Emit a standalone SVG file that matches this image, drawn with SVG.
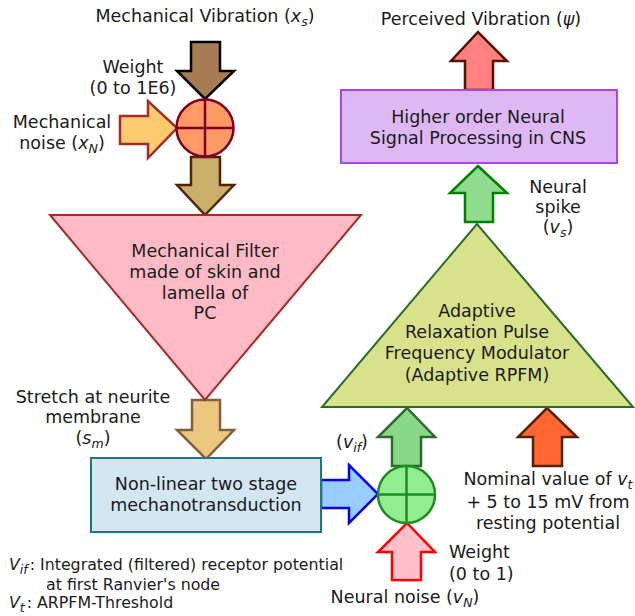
<svg xmlns="http://www.w3.org/2000/svg" width="635" height="616" viewBox="0 0 635 616">
<style>
text{font-family:"DejaVu Sans","Liberation Sans",sans-serif;font-size:17.5px;fill:#1a1a1a}
.m{text-anchor:middle}
.s{font-size:15.8px}
.i{font-style:italic}
.sub{font-size:12.5px;font-style:italic}
.a{stroke-width:2.5;stroke-linejoin:miter}
</style>
<g id="connectors">
<path id="arrow-vibration" class="a" d="M191,42 H220 V71 H234 L205,99 L177,71 H191 Z" fill="#a67c52" stroke="#000"/>
<path id="arrow-mech-noise" class="a" d="M120,116 H148 V101 L177,128 L148,158 V144 H120 Z" fill="#fdcb6e" stroke="#a02c2c"/>
<path id="arrow-to-filter" class="a" d="M191,157 H220 V185 H234 L205,215 L177,185 H191 Z" fill="#c8b06a" stroke="#552200"/>
<path id="arrow-stretch" class="a" d="M192,400 H220 V430 H234 L206,459 L177,430 H192 Z" fill="#eec77e" stroke="#806040"/>
<path id="arrow-transduction" class="a" d="M321,480 H349 V465 L378,494 L349,523 V508 H321 Z" fill="#99ccff" stroke="#0000ff"/>
<path id="arrow-vif" class="a" d="M392,466 V437 H378 L407,408 L435,437 H421 V466 Z" fill="#88d888" stroke="#2d6b2d"/>
<path id="arrow-neural-noise" class="a" d="M392,580 V552 H378 L407,523 L435,552 H421 V580 Z" fill="#ffc0cb" stroke="#ff0000"/>
<path id="arrow-threshold" class="a" d="M533,466 V437 H518 L547,408 L577,437 H562 V466 Z" fill="#ff6633" stroke="#552200"/>
<path id="arrow-spike" class="a" d="M465,222 V193 H450 L478,166 L507,193 H493 V222 Z" fill="#8fdc8f" stroke="#008000"/>
<path id="arrow-perceived" class="a" d="M465,90 V61 H451 L478,32 L507,61 H493 V90 Z" fill="#ff8080" stroke="#551100"/>
</g>
<g id="sum-mechanical">
<circle cx="205" cy="128" r="28.5" fill="#ff9966" stroke="#800020" stroke-width="2.5"/>
<path d="M205,99.5 V156.5 M176.5,128 H233.5" stroke="#800020" stroke-width="2.5"/>
</g>
<g id="mechanical-filter">
<path d="M50,215 H361 L205,400 Z" fill="#ffbac6" stroke="#a52a2a" stroke-width="2"/>
<text class="m" x="205" y="257">Mechanical Filter</text>
<text class="m" x="205" y="278">made of skin and</text>
<text class="m" x="205" y="299">lamella of</text>
<text class="m" x="205" y="319">PC</text>
</g>
<g id="transduction">
<rect x="91" y="458" width="230" height="74" fill="#d2e6f3" stroke="#1a7a7a" stroke-width="2"/>
<text class="m" x="206" y="490">Non-linear two stage</text>
<text class="m" x="206" y="511">mechanotransduction</text>
</g>
<g id="sum-neural">
<circle cx="406.5" cy="494.5" r="28.5" fill="#90ee90" stroke="#228b22" stroke-width="2.5"/>
<path d="M406.5,466 V523 M378,494.5 H435" stroke="#228b22" stroke-width="2.5"/>
</g>
<g id="rpfm">
<path d="M322,407 H633 L477,224 Z" fill="#d8e28a" stroke="#2d6b2d" stroke-width="2"/>
<text class="m" x="477" y="317">Adaptive</text>
<text class="m" x="477" y="338">Relaxation Pulse</text>
<text class="m" x="477" y="359">Frequency Modulator</text>
<text class="m" x="477" y="381">(Adaptive RPFM)</text>
</g>
<g id="cns">
<rect x="341" y="90" width="276" height="73" fill="#ddb8f5" stroke="#aa44ee" stroke-width="2"/>
<text class="m" x="478" y="123">Higher order Neural</text>
<text class="m" x="478" y="144">Signal Processing in CNS</text>
</g>
<g id="labels">
<text class="m" x="205" y="22">Mechanical Vibration (<tspan class="i">x</tspan><tspan class="sub" dy="4">s</tspan><tspan dy="-4">)</tspan></text>
<text class="m" x="133" y="73">Weight</text>
<text class="m" x="133" y="94">(0 to 1E6)</text>
<text class="m" x="62" y="128">Mechanical</text>
<text class="m" x="62" y="149">noise (<tspan class="i">x</tspan><tspan class="sub" dy="4">N</tspan><tspan dy="-4">)</tspan></text>
<text class="m" x="93" y="403">Stretch at neurite</text>
<text class="m" x="93" y="423">membrane</text>
<text class="m" x="93" y="444">(<tspan class="i">s</tspan><tspan class="sub" dy="4">m</tspan><tspan dy="-4">)</tspan></text>
<text x="9" y="570" class="s"><tspan class="i">V</tspan><tspan class="sub" dy="4">if</tspan><tspan dy="-4" dx="2">: Integrated (filtered) receptor potential</tspan></text>
<text x="46" y="590" class="s">at first Ranvier's node</text>
<text x="9" y="608" class="s"><tspan class="i">V</tspan><tspan class="sub" dy="4">t</tspan><tspan dy="-4" dx="2">: ARPFM-Threshold</tspan></text>
<text class="m" x="352" y="448">(<tspan class="i">v</tspan><tspan class="sub" dy="4">if</tspan><tspan dy="-4">)</tspan></text>
<text class="m" x="548" y="485">Nominal value of <tspan class="i">v</tspan><tspan class="sub" dy="4">t</tspan></text>
<text class="m" x="548" y="508">+ 5 to 15 mV from</text>
<text class="m" x="548" y="529">resting potential</text>
<text x="449" y="558">Weight</text>
<text x="449" y="580">(0 to 1)</text>
<text class="m" x="405" y="603">Neural noise (<tspan class="i">v</tspan><tspan class="sub" dy="4">N</tspan><tspan dy="-4">)</tspan></text>
<text class="m" x="481" y="25">Perceived Vibration (<tspan class="i">ψ</tspan>)</text>
<text class="m" x="558" y="193">Neural</text>
<text class="m" x="558" y="213">spike</text>
<text class="m" x="558" y="233">(<tspan class="i">v</tspan><tspan class="sub" dy="4">s</tspan><tspan dy="-4">)</tspan></text>
</g>
</svg>
